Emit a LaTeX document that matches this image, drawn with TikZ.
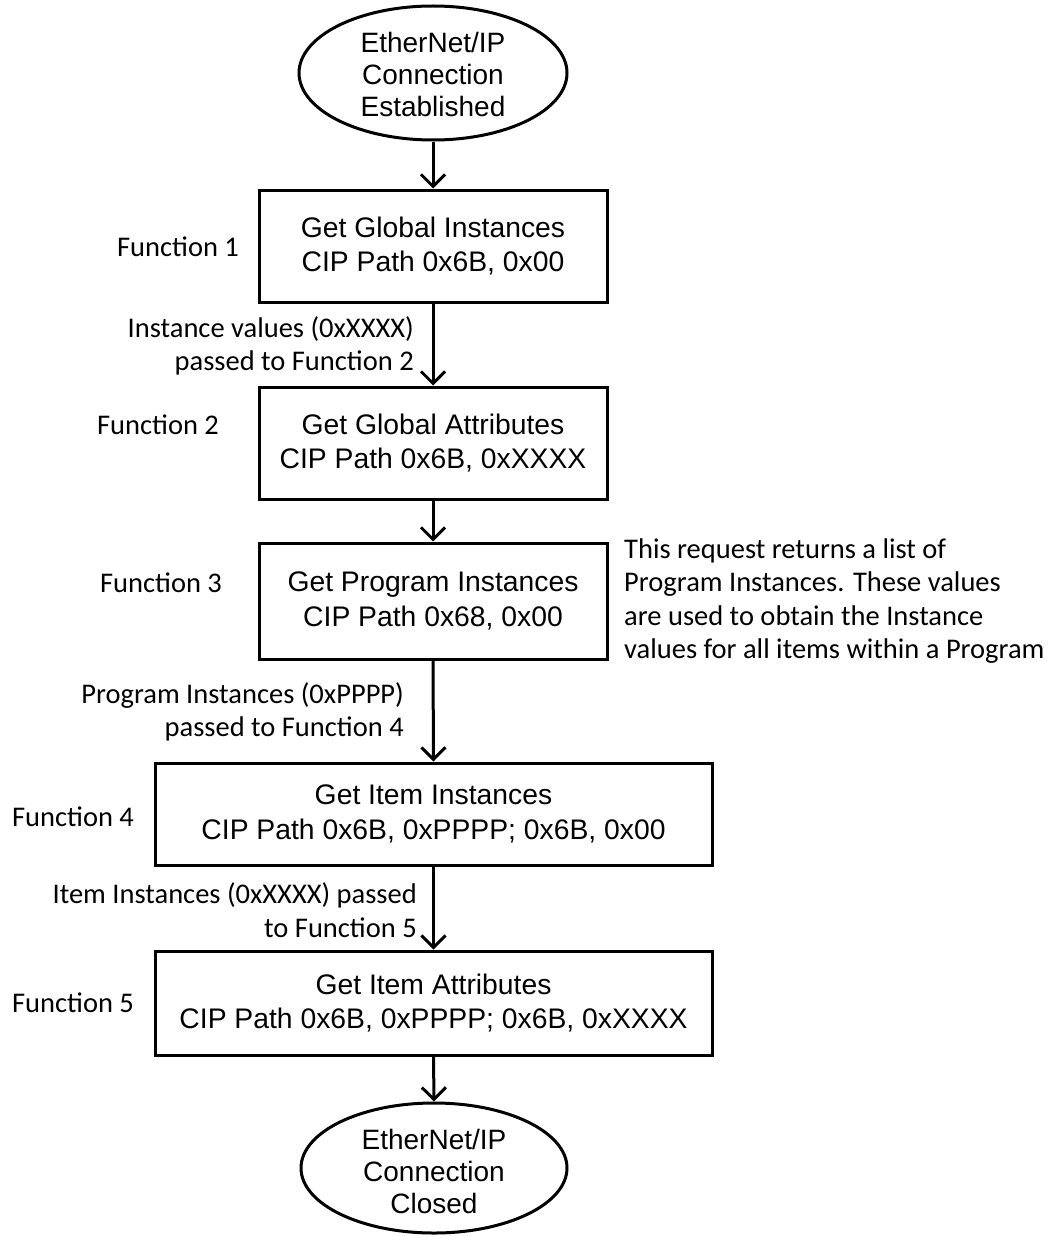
\documentclass[tikz,border=0pt]{standalone}
\usepackage{fontspec}
\setmainfont{Liberation Sans}
\newfontfamily\calib{Carlito}
\usetikzlibrary{shapes.geometric,arrows.meta}
\begin{document}
\begin{tikzpicture}[x=1pt,y=-1pt,
  boxstyle/.style={draw, line width=3pt, rectangle, inner sep=0pt, align=center,
    font=\fontsize{28.3}{34.5}\selectfont},
  ovalstyle/.style={draw, line width=3pt, ellipse, inner sep=0pt},
  ovaltext/.style={align=center, font=\fontsize{28}{32}\selectfont, inner sep=0pt},
  sidelabel/.style={font=\calib\fontsize{28.5}{33.5}\selectfont, inner sep=0pt},
  flow/.style={line width=3pt, -{Straight Barb[length=12pt,width=24pt,line width=3pt]}}
]
\useasboundingbox (0,0) rectangle (1049,1236);
\fill[white] (0,0) rectangle (1049,1236);

\node[ovalstyle, minimum width=268pt, minimum height=134pt] (e1) at (433,73) {};
\node[ovaltext] (e1t) at (433,74) {EtherNet/IP\\Connection\\Established};

\node[boxstyle, minimum width=348pt, minimum height=112pt] (b1) at (433,246) {Get Global Instances\\CIP Path 0x6B, 0x00};
\node[boxstyle, minimum width=348pt, minimum height=112pt] (b2) at (433,443) {Get Global Attributes\\CIP Path 0x6B, 0xXXXX};
\node[boxstyle, minimum width=348pt, minimum height=116pt] (b3) at (433,601) {Get Program Instances\\CIP Path 0x68, 0x00};
\node[boxstyle, minimum width=557pt, minimum height=102pt] (b4) at (433.5,814) {Get Item Instances\\CIP Path 0x6B, 0xPPPP; 0x6B, 0x00};
\node[boxstyle, minimum width=557pt, minimum height=104pt] (b5) at (433.5,1003) {Get Item Attributes\\CIP Path 0x6B, 0xPPPP; 0x6B, 0xXXXX};

\node[ovalstyle, minimum width=266pt, minimum height=130pt] (e2) at (434,1168) {};
\node[ovaltext] (e2t) at (434,1171) {EtherNet/IP\\Connection\\Closed};

\draw[flow] (e1.south) -- (b1.north);
\draw[flow] (b1.south) -- (b2.north);
\draw[flow] (b2.south) -- (b3.north);
\draw[flow] (b3.south) -- (b4.north);
\draw[flow] (b4.south) -- (b5.north);
\draw[flow] (b5.south) -- (e2.north);

\node[sidelabel] (f1) at (178,247) {Function 1};
\node[sidelabel] (f2) at (158,425) {Function 2};
\node[sidelabel] (f3) at (161,583) {Function 3};
\node[sidelabel] (f4) at (73,817) {Function 4};
\node[sidelabel] (f5) at (73,1003) {Function 5};

\node[sidelabel, align=right, anchor=east] (l1) at (414,346) {Instance values (0xXXXX)\\passed to Function 2};
\node[sidelabel, align=right, anchor=east] (l2) at (404,712) {Program Instances (0xPPPP)\\passed to Function 4};
\node[sidelabel, align=right, anchor=east] (l3) at (417,910) {Item Instances (0xXXXX) passed\\to Function 5};

\node[sidelabel, align=left, anchor=west] (note) at (624,601) {This request returns a list of\\Program Instances.  These values\\are used to obtain the Instance\\values for all items within a Program};
\end{tikzpicture}
\end{document}
